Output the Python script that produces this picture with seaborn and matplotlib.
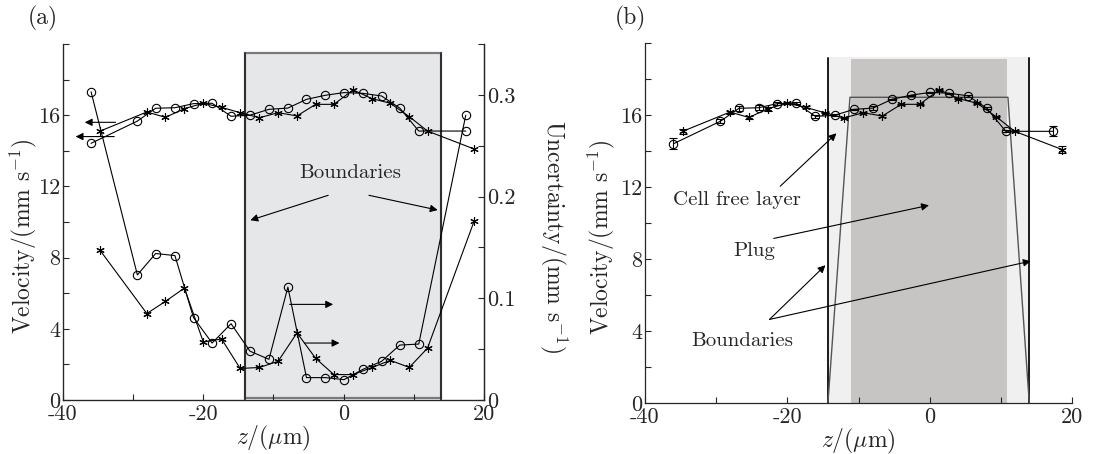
import matplotlib.pyplot as plt
import matplotlib.patches as mpatches
from matplotlib.ticker import MultipleLocator, FuncFormatter
import numpy as np
import pandas as pd
import seaborn as sns

# circles: first data set, z in um, velocity and uncertainty in mm/s
z_circ = [-36.0, -29.4, -26.8, -24.05, -21.4, -18.75, -16.05, -13.35, -10.65,
          -7.95, -5.3, -2.6, 0.05, 2.7, 5.4, 8.0, 10.7, 17.4]
v_circ = [14.42, 15.67, 16.39, 16.42, 16.65, 16.67, 15.94, 16.0, 16.33,
          16.4, 16.89, 17.12, 17.27, 17.23, 17.08, 16.4, 15.11, 15.11]
u_circ = [0.303, 0.123, 0.144, 0.142, 0.081, 0.056, 0.075, 0.048, 0.040,
          0.111, 0.022, 0.022, 0.020, 0.030, 0.038, 0.054, 0.055, 0.280]

# asterisks: second data set
z_star = [-34.7, -28.05, -25.4, -22.7, -20.0, -17.4, -14.75, -12.0, -9.35,
          -6.65, -4.0, -1.4, 1.35, 4.05, 6.65, 9.35, 11.95, 18.6]
v_star = [15.11, 16.18, 15.88, 16.37, 16.67, 16.44, 16.14, 15.86, 16.14,
          15.96, 16.61, 16.61, 17.42, 16.93, 16.67, 15.92, 15.11, 14.1]
u_star = [0.147, 0.085, 0.097, 0.110, 0.057, 0.060, 0.031, 0.032, 0.038,
          0.066, 0.041, 0.025, 0.025, 0.032, 0.039, 0.032, 0.051, 0.176]

# channel boundaries and plug model
bound_a = (-14.0, 13.9)
bound_b = (-14.3, 14.0)
plug_core = (-11.1, 10.9)
plug_z = [-14.3, -11.2, 11.0, 14.0]
plug_v = [0.0, 17.0, 17.0, 0.0]

sns.set_style('ticks')
plt.rcParams['font.family'] = 'serif'
plt.rcParams['font.serif'] = ['cmr10', 'DejaVu Serif']
plt.rcParams['mathtext.fontset'] = 'cm'
plt.rcParams['axes.unicode_minus'] = False
plt.rcParams['axes.formatter.use_mathtext'] = False
plt.rcParams['font.size'] = 15

star = (6, 2, 0)
circ_kw = dict(color='k', lw=0.8, marker='o', mfc='none', mec='k', mew=0.8, ms=6)
star_kw = dict(color='k', lw=0.8, marker=star, mec='k', mew=0.8, ms=6)
arrow = dict(arrowstyle='-|>', lw=0.8, color='k', mutation_scale=11, shrinkA=0, shrinkB=0)

vel_label = r'Velocity/(mm s$^{-1}$)'
unc_label = r'Uncertainty/(mm s$^{-1}$)'
z_label = r'$z/(\mu\mathrm{m})$'
TICK_FS = 16
LABEL_FS = 17


def style_axes(ax):
    ax.set_xlim(-40, 20)
    ax.set_ylim(0, 20)
    ax.xaxis.set_major_locator(MultipleLocator(10))
    ax.xaxis.set_major_formatter(FuncFormatter(lambda v, p: f'{v:.0f}' if v % 20 == 0 else ''))
    ax.yaxis.set_major_locator(MultipleLocator(2))
    ax.yaxis.set_major_formatter(FuncFormatter(lambda v, p: f'{v:.0f}' if v % 4 == 0 and v < 20 else ''))
    ax.tick_params(direction='in', length=4, width=0.8, labelsize=TICK_FS)
    ax.tick_params(axis='y', pad=2)
    ax.tick_params(axis='x', pad=3)
    ax.spines['top'].set_visible(False)
    for s in ax.spines.values():
        s.set_linewidth(0.9)
    ax.set_xlabel(z_label, fontsize=LABEL_FS, labelpad=0)
    ax.set_ylabel(vel_label, fontsize=LABEL_FS, va='center')


fig = plt.figure(figsize=(11.17, 4.54), dpi=100)

# ---- panel (a)
ax = fig.add_axes([63 / 1117, 54 / 454, 421 / 1117, 356 / 454])
style_axes(ax)
ax.yaxis.set_label_coords(-0.093, 0.46)
ax.add_patch(mpatches.Rectangle((bound_a[0], 0.1), bound_a[1] - bound_a[0], 19.4,
                                facecolor='#e6e7e9', edgecolor='#7a7a7a', lw=1.6, zorder=0))
for zb in bound_a:
    ax.plot([zb, zb], [0, 19.5], color='#222222', lw=1.2, zorder=1)

sns.lineplot(x=z_circ, y=v_circ, ax=ax, sort=False, estimator=None, **circ_kw)
sns.lineplot(x=z_star, y=v_star, ax=ax, sort=False, estimator=None, **star_kw)

ax2 = ax.twinx()
ax2.set_ylim(0, 0.35)
ax2.yaxis.set_major_locator(MultipleLocator(0.05))
ax2.yaxis.set_major_formatter(FuncFormatter(
    lambda v, p: ('0' if v < 1e-9 else f'{v:.1f}') if round(v * 100) % 10 == 0 else ''))
ax2.tick_params(direction='in', length=4, width=0.8, labelsize=TICK_FS, pad=2)
ax2.spines['top'].set_visible(False)
ax2.spines['right'].set_linewidth(0.9)
sns.lineplot(x=z_circ, y=u_circ, ax=ax2, sort=False, estimator=None, **circ_kw)
sns.lineplot(x=z_star, y=u_star, ax=ax2, sort=False, estimator=None, **star_kw)
ax2.set_ylabel(unc_label, fontsize=LABEL_FS, rotation=270, va='center')
ax2.yaxis.set_label_coords(1.165, 0.46)

ax.annotate('', xy=(-36.9, 15.6), xytext=(-32.5, 15.6), arrowprops=arrow)
ax.annotate('', xy=(-38.2, 14.8), xytext=(-32.7, 14.8), arrowprops=arrow)
ax2.annotate('', xy=(-1.5, 0.094), xytext=(-7.7, 0.094), arrowprops=arrow)
ax2.annotate('', xy=(-0.6, 0.056), xytext=(-5.6, 0.056), arrowprops=arrow)
ax.text(0.9, 12.75, 'Boundaries', ha='center', va='center', fontsize=15)
ax.annotate('', xy=(-13.3, 10.1), xytext=(-2.2, 11.5), arrowprops=arrow)
ax.annotate('', xy=(13.4, 10.67), xytext=(3.6, 11.5), arrowprops=arrow)

# ---- panel (b)
bx = fig.add_axes([645 / 1117, 50.7 / 454, 427 / 1117, 360 / 454])
style_axes(bx)
bx.yaxis.set_label_coords(-0.103, 0.46)
bx.spines['right'].set_visible(False)
bx.axvspan(bound_b[0], bound_b[1], ymin=0, ymax=19.25 / 20, color='#eff0ef', lw=0, zorder=0)
bx.axvspan(plug_core[0], plug_core[1], ymin=0, ymax=19.15 / 20, color='#c6c5c4', lw=0, zorder=0)
for zb in bound_b:
    bx.plot([zb, zb], [0, 19.2], color='#1a1a1a', lw=1.4, zorder=1)
sns.lineplot(x=plug_z, y=plug_v, ax=bx, sort=False, estimator=None, color='#555555', lw=1.0)

bx.errorbar(z_circ, v_circ, yerr=u_circ, fmt='none', ecolor='k', elinewidth=0.8, capsize=3, capthick=0.8)
bx.errorbar(z_star, v_star, yerr=u_star, fmt='none', ecolor='k', elinewidth=0.8, capsize=3, capthick=0.8)
sns.lineplot(x=z_circ, y=v_circ, ax=bx, sort=False, estimator=None, **circ_kw)
sns.lineplot(x=z_star, y=v_star, ax=bx, sort=False, estimator=None, **star_kw)

bx.text(-27.15, 11.32, 'Cell free layer', ha='center', va='center', fontsize=15)
bx.annotate('', xy=(-13.1, 15.0), xytext=(-21.0, 12.06), arrowprops=arrow)
bx.text(-24.7, 8.47, 'Plug', ha='center', va='center', fontsize=15)
bx.annotate('', xy=(-0.1, 11.0), xytext=(-21.9, 9.16), arrowprops=arrow)
bx.text(-26.3, 3.47, 'Boundaries', ha='center', va='center', fontsize=15)
bx.annotate('', xy=(-14.65, 7.67), xytext=(-22.5, 4.66), arrowprops=arrow)
bx.annotate('', xy=(14.2, 7.9), xytext=(-22.5, 4.66), arrowprops=arrow)

fig.text(43 / 1117, 1 - 18 / 454, '(a)', ha='center', va='center', fontsize=17)
fig.text(630 / 1117, 1 - 18 / 454, '(b)', ha='center', va='center', fontsize=17)

fig.savefig('out.png', dpi=100)
